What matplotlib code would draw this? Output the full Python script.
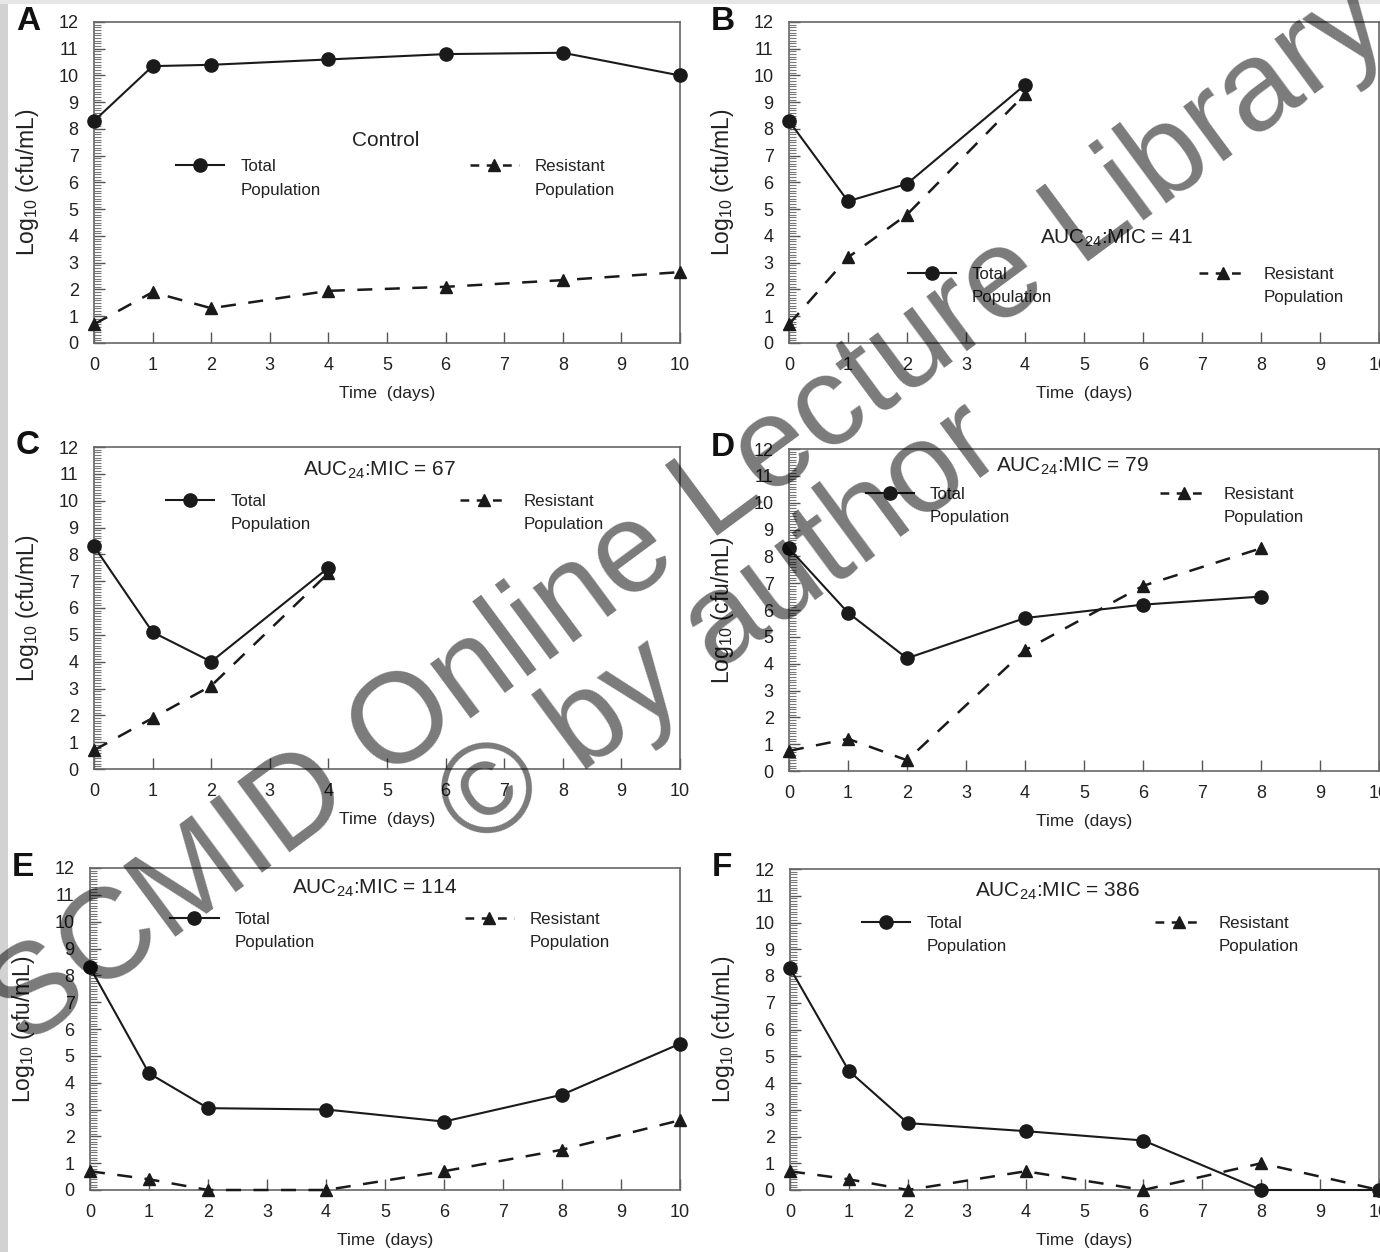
import matplotlib
matplotlib.use("Agg")
import matplotlib.pyplot as plt
from matplotlib.lines import Line2D
from matplotlib.patches import Rectangle
from matplotlib.ticker import MultipleLocator

plt.rcParams['font.family'] = ['Liberation Sans', 'DejaVu Sans']
plt.rcParams['mathtext.default'] = 'regular'

# sampling days
days_full = [0, 1, 2, 4, 6, 8, 10]
days_short = [0, 1, 2, 4]
days_d = [0, 1, 2, 4, 6, 8]

# log10 cfu/mL
a_total = [8.3, 10.35, 10.4, 10.6, 10.8, 10.85, 10.0]
a_resist = [0.7, 1.9, 1.3, 1.95, 2.1, 2.35, 2.65]
b_total = [8.3, 5.3, 5.95, 9.65]
b_resist = [0.7, 3.2, 4.8, 9.3]
c_total = [8.3, 5.1, 4.0, 7.5]
c_resist = [0.7, 1.9, 3.1, 7.3]
d_total = [8.3, 5.9, 4.2, 5.7, 6.2, 6.5]
d_resist = [0.75, 1.2, 0.4, 4.5, 6.9, 8.3]
e_total = [8.3, 4.35, 3.05, 3.0, 2.55, 3.55, 5.45]
e_resist = [0.7, 0.4, 0.0, 0.0, 0.7, 1.5, 2.6]
f_total = [8.3, 4.45, 2.5, 2.2, 1.85, 0.0, 0.0]
f_resist = [0.7, 0.4, 0.0, 0.7, 0.0, 1.0, 0.0]

letters = ['A', 'B', 'C', 'D', 'E', 'F']
titles = ['Control', 'AUC$_{24}$:MIC = 41', 'AUC$_{24}$:MIC = 67',
          'AUC$_{24}$:MIC = 79', 'AUC$_{24}$:MIC = 114', 'AUC$_{24}$:MIC = 386']

panels = [
    (days_full, a_total, days_full, a_resist),
    (days_short, b_total, days_short, b_resist),
    (days_short, c_total, days_short, c_resist),
    (days_d, d_total, days_d, d_resist),
    (days_full, e_total, days_full, e_resist),
    (days_full, f_total, days_full, f_resist),
]

W, H = 1380, 1252
fig = plt.figure(figsize=(W / 100, H / 100), dpi=100)
fig.patch.set_facecolor('white')
fig.patches.append(Rectangle((0, 0), 8 / W, 1, transform=fig.transFigure,
                             facecolor='#d2d2d2', edgecolor='none', zorder=0))
fig.patches.append(Rectangle((0, 1 - 4 / H), 1, 4 / H, transform=fig.transFigure,
                             facecolor='#e6e6e6', edgecolor='none', zorder=0))

# axes boxes in pixels: left, top, right, bottom
boxes = [(94, 22, 680, 343), (789, 22, 1379, 343),
         (94, 447, 680, 769), (789, 449, 1379, 771),
         (90, 868, 680, 1190), (790, 869, 1379, 1190)]
# layout of annotation text and the two legend rows (axes fraction)
title_pos = [(0.498, 0.632), (0.555, 0.327), (0.488, 0.929),
             (0.481, 0.947), (0.483, 0.938), (0.454, 0.931)]
leg_pos = [(0.14, 0.642, 0.554), (0.201, 0.695, 0.218), (0.123, 0.624, 0.835),
           (0.130, 0.628, 0.863), (0.136, 0.636, 0.845), (0.122, 0.619, 0.835)]

ink = '#1a1a1a'
for i, (xt, yt, xr, yr) in enumerate(panels):
    l, t, r, b = boxes[i]
    ax = fig.add_axes([l / W, 1 - b / H, (r - l) / W, (b - t) / H])
    ax.plot(xt, yt, color=ink, lw=1.5, marker='o', ms=9.5, clip_on=False, zorder=3)
    ax.plot(xr, yr, color=ink, lw=1.8, ls=(0, (6, 5)), marker='^', ms=9,
            clip_on=False, zorder=3)
    ax.set_xlim(0, 10)
    ax.set_ylim(0, 12)
    ax.xaxis.set_major_locator(MultipleLocator(1))
    ax.yaxis.set_major_locator(MultipleLocator(1))
    ax.yaxis.set_minor_locator(MultipleLocator(0.1))
    ax.tick_params(axis='both', which='major', direction='in', length=8, width=1,
                   color='#555555', labelsize=13, labelcolor='#222222')
    ax.tick_params(axis='y', which='major', pad=11)
    ax.tick_params(axis='x', which='major', pad=10)
    ax.tick_params(axis='y', which='minor', direction='in', length=5, width=0.8,
                   color='#777777')
    for s in ax.spines.values():
        s.set_color('#666666')
        s.set_linewidth(1.2)
    ax.set_xlabel('Time  (days)', fontsize=12.5, color='#222222', labelpad=9)
    ax.set_ylabel('Log$_{10}$ (cfu/mL)', fontsize=16.5, color='#222222',
                  labelpad=13)
    ax.text(title_pos[i][0], title_pos[i][1], titles[i], transform=ax.transAxes,
            ha='center', va='center', fontsize=15, color='#222222')
    fig.text((l - 78) / W, 1 - (t - 1) / H, letters[i], fontsize=24,
             fontweight='bold', ha='left', va='center', color='#111111')

    blank = Line2D([], [], linestyle='none')
    h_tot = Line2D([], [], color=ink, lw=1.5, marker='o', ms=9.5)
    h_res = Line2D([], [], color=ink, lw=1.8, ls=(0, (3.5, 3)), marker='^', ms=9)
    x1, x2, yrow = leg_pos[i]
    kw = dict(loc='upper left', frameon=False, fontsize=12.2, borderpad=0,
              borderaxespad=0, labelspacing=0.48, handlelength=2.85,
              handletextpad=0.95, labelcolor='#222222')
    lg1 = ax.legend([h_tot, blank], ['Total', 'Population'],
                    bbox_to_anchor=(x1, yrow + 0.018), **kw)
    ax.add_artist(lg1)
    ax.legend([h_res, blank], ['Resistant', 'Population'],
              bbox_to_anchor=(x2, yrow + 0.018), **kw)

# watermark
wm = dict(rotation=36.5, ha='center', va='center', fontsize=92, color='black',
          alpha=0.52, rotation_mode='anchor', zorder=10)
fig.text(690 / W, 1 - 515 / H, 'SCMID Online Lecture Library', **wm)
fig.text(722 / W, 1 - 628 / H, '\u00a9 by author', **wm)

fig.savefig('out.png', dpi=100)
